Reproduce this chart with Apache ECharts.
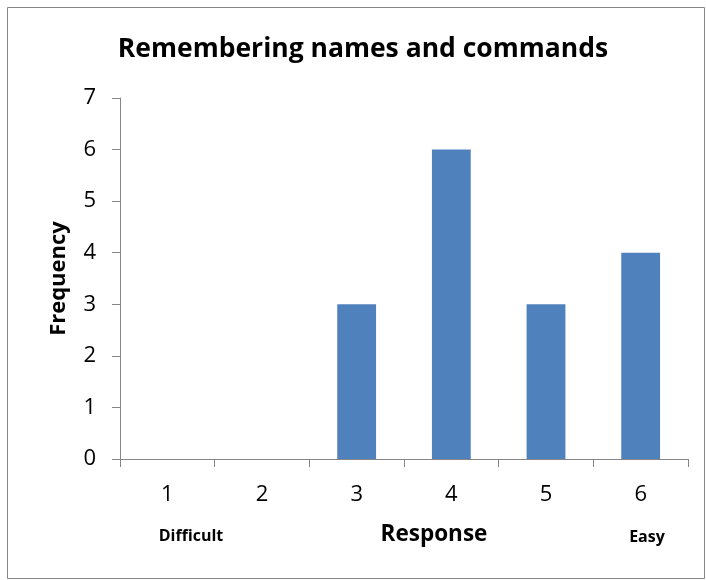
<!DOCTYPE html>
<html><head><meta charset="utf-8">
<script src="https://cdn.jsdelivr.net/npm/echarts@6/dist/echarts.min.js"></script>
<style>html,body{margin:0;padding:0;background:#fff}#c{width:706px;height:580px}</style>
</head><body><div id="c"></div>
<script>
const categories = ['1','2','3','4','5','6'];
const frequency = [0, 0, 3, 6, 3, 4];
const yTicks = [0,1,2,3,4,5,6,7];
const titleText = 'Remembering names and commands';
const xName = 'Response';
const yName = 'Frequency';
const lowLabel = 'Difficult';
const highLabel = 'Easy';

const FONT = '"Open Sans", Lato, sans-serif';
const chart = echarts.init(document.getElementById('c'), null, {renderer:'canvas'});
chart.setOption({
  animation:false,
  backgroundColor:'#fff',
  title:{text:titleText,left:358,textAlign:'center',top:31,textStyle:{fontFamily:FONT,fontSize:26.5,fontWeight:'bold',color:'#000'}},
  grid:{left:120,right:18,top:98,bottom:121,containLabel:false},
  xAxis:{type:'category',data:categories,
    axisLine:{lineStyle:{color:'#868686',width:1}},
    axisTick:{show:true,length:8,lineStyle:{color:'#868686'}},
    axisLabel:{fontFamily:FONT,fontSize:22,color:'#000',margin:25},
  },
  yAxis:{type:'value',min:0,max:7,interval:1,
    axisLine:{show:true,lineStyle:{color:'#868686',width:1}},
    axisTick:{show:true,length:8,lineStyle:{color:'#868686'}},
    splitLine:{show:false},
    axisLabel:{fontFamily:FONT,fontSize:22,color:'#000',margin:24},
    name:yName,nameLocation:'middle',nameGap:50,nameRotate:90,
    nameTextStyle:{fontFamily:FONT,fontSize:22,fontWeight:'bold',color:'#000'}},
  series:[{type:'bar',data:frequency,barWidth:'41%',itemStyle:{color:'#4F81BD'}}],
  graphic:[
    {type:'rect',shape:{x:7.5,y:7.5,width:697,height:571},style:{fill:'none',stroke:'#868686',lineWidth:1},silent:true},
    {type:'text',x:434,y:535,style:{text:xName,font:'bold 22.5px '+FONT,fill:'#000',align:'center',verticalAlign:'middle'}},
    {type:'text',x:191,y:536,style:{text:lowLabel,font:'bold 16px '+FONT,fill:'#000',align:'center',verticalAlign:'middle'}},
    {type:'text',x:647,y:537,style:{text:highLabel,font:'bold 16px '+FONT,fill:'#000',align:'center',verticalAlign:'middle'}}
  ]
});
</script></body></html>
